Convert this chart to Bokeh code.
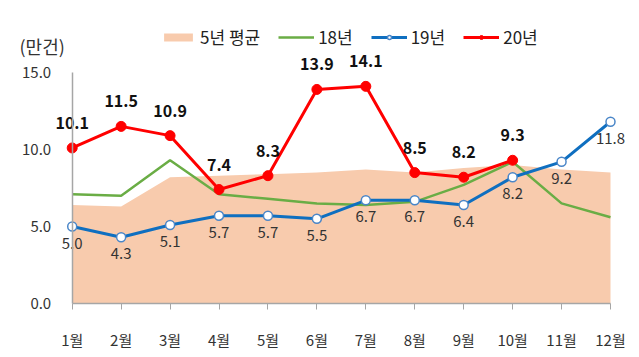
from bokeh.plotting import figure
from bokeh.models import Range1d, FixedTicker, Legend, LegendItem, Label, NumeralTickFormatter
from bokeh.core.properties import value
from bokeh.embed import file_html
from bokeh.resources import INLINE

# ---- data ----
months = ["1월", "2월", "3월", "4월", "5월", "6월", "7월", "8월", "9월", "10월", "11월", "12월"]
month_pos = [1, 2, 3, 4, 5, 6, 7, 8, 9, 10, 11, 12]
avg5 = [6.4, 6.3, 8.2, 8.3, 8.4, 8.5, 8.7, 8.5, 8.8, 9.0, 8.7, 8.5]
y18 = [7.1, 7.0, 9.3, 7.1, 6.8, 6.5, 6.4, 6.6, 7.7, 9.2, 6.5, 5.6]
y19 = [5.0, 4.3, 5.1, 5.7, 5.7, 5.5, 6.7, 6.7, 6.4, 8.2, 9.2, 11.8]
y20 = [10.1, 11.5, 10.9, 7.4, 8.3, 13.9, 14.1, 8.5, 8.2, 9.3]
y_ticks = [0, 5, 10, 15]
unit_label = "(만건)"
series_names = ["5년 평균", "18년", "19년", "20년"]

FONT = "Noto Sans CJK KR"
W, H = 630, 349
X1_PX, X12_PX = 71.7, 610.0
Y0_PX, Y15_PX = 303.0, 72.0
PX_X = (X12_PX - X1_PX) / 11
PX_Y = (Y0_PX - Y15_PX) / 15
x_start = 1 - X1_PX / PX_X
x_end = x_start + W / PX_X
y_end = Y0_PX / PX_Y
y_start = -(H - Y0_PX) / PX_Y

p = figure(width=W, height=H, output_backend="svg", toolbar_location=None,
           x_range=Range1d(x_start, x_end), y_range=Range1d(y_start, y_end),
           min_border_left=0, min_border_right=0, min_border_top=0, min_border_bottom=0)
p.outline_line_color = None
p.xgrid.visible = False
p.ygrid.visible = False
p.background_fill_color = "white"
p.border_fill_color = "white"

area = p.varea(x=month_pos, y1=[0] * 12, y2=avg5, fill_color="#F8CBAD", fill_alpha=1.0)
l18 = p.line(x=month_pos, y=y18, line_color="#6AAD45", line_width=2.5)
l19 = p.line(x=month_pos, y=y19, line_color="#0F6FC0", line_width=3)
m19 = p.scatter(x=month_pos, y=y19, size=9, fill_color="white", line_color="#4A86C8", line_width=1.5)
l20 = p.line(x=month_pos[:len(y20)], y=y20, line_color="#FF0000", line_width=3)
m20 = p.scatter(x=month_pos[:len(y20)], y=y20, size=10, fill_color="#FF0000", line_color="#FF0000")

p.text(x=month_pos[:len(y20)], y=y20, text=[f"{v:.1f}" for v in y20],
       text_font=value(FONT), text_font_size="16px", text_font_style="bold",
       text_color="#111111", text_align="center", text_baseline="bottom", y_offset=-19)
p.text(x=month_pos, y=y19, text=[f"{v:.1f}" for v in y19],
       text_font=value(FONT), text_font_size="15px",
       text_color="#333333", text_align="center", text_baseline="top", y_offset=11)

# axes
xa = p.xaxis[0]
xa.fixed_location = 0
xa.ticker = FixedTicker(ticks=month_pos)
xa.major_label_overrides = {m: lab for m, lab in zip(month_pos, months)}
xa.bounds = (1, 12)
xa.axis_line_color = "#A6A6A6"
xa.axis_line_width = 1.5
xa.major_tick_line_color = "#A6A6A6"
xa.major_tick_out = 6
xa.major_tick_in = 0
xa.minor_tick_line_color = None
xa.major_label_text_font = FONT
xa.major_label_text_font_size = "15px"
xa.major_label_text_color = "#333333"
xa.major_label_standoff = 19

ya = p.yaxis[0]
ya.fixed_location = 1
ya.ticker = FixedTicker(ticks=y_ticks)
ya.formatter = NumeralTickFormatter(format="0.0")
ya.bounds = (0, 15)
ya.axis_line_color = "#A6A6A6"
ya.axis_line_width = 1.5
ya.major_tick_line_color = None
ya.minor_tick_line_color = None
ya.major_label_text_font = FONT
ya.major_label_text_font_size = "15px"
ya.major_label_text_color = "#333333"
ya.major_label_standoff = 15

p.add_layout(Label(x=x_start + 19 / PX_X, y=y_end - 45 / PX_Y, text=unit_label,
                   text_font=FONT, text_font_size="18px", text_color="#333333",
                   text_align="left", text_baseline="middle"))

legend = Legend(items=[
    LegendItem(label=series_names[0], renderers=[area]),
    LegendItem(label=series_names[1], renderers=[l18]),
    LegendItem(label=series_names[2], renderers=[l19, m19]),
    LegendItem(label=series_names[3], renderers=[l20, m20]),
], orientation="horizontal", location=(160, H - 49))
legend.padding = 0
legend.margin = 0
legend.spacing = 18
legend.glyph_width = 36
legend.glyph_height = 10
legend.label_standoff = 4
legend.label_text_font = FONT
legend.label_text_font_size = "17px"
legend.label_text_color = "#222222"
legend.border_line_color = None
legend.background_fill_alpha = 0
p.add_layout(legend)

open("out.html", "w").write(file_html(p, INLINE))
